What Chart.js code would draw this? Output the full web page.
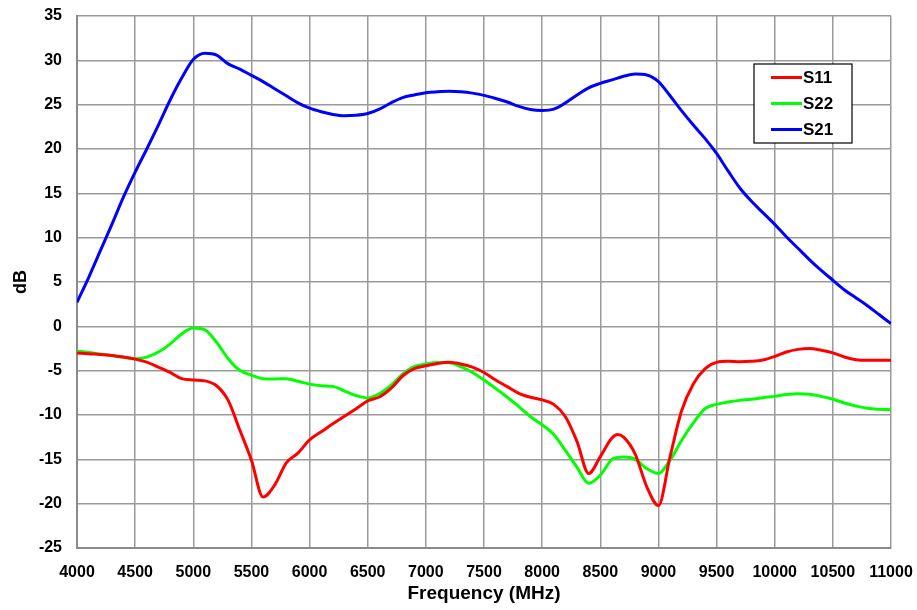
<!DOCTYPE html>
<html>
<head>
<meta charset="utf-8">
<script src="https://cdn.jsdelivr.net/npm/chart.js@4/dist/chart.umd.min.js"></script>
<style>
  html, body { margin: 0; padding: 0; background: #fff; }
  #wrap { width: 917px; height: 610px; position: relative; }
</style>
</head>
<body>
<div id="wrap"><canvas id="sparams"></canvas></div>
<script>
// Frequency points (MHz)
const freqs = [
  4000, 4100, 4200, 4300, 4400, 4500, 4600, 4700, 4800, 4900,
  5000, 5100, 5200, 5300, 5400, 5500, 5600, 5700, 5800, 5900,
  6000, 6100, 6200, 6300, 6400, 6500, 6600, 6700, 6800, 6900,
  7000, 7100, 7200, 7300, 7400, 7500, 7600, 7700, 7800, 7900,
  8000, 8100, 8200, 8300, 8400, 8500, 8600, 8650, 8700, 8800, 8900,
  9000, 9100, 9200, 9300, 9400, 9500, 9600, 9700, 9800, 9900,
  10000, 10100, 10200, 10300, 10400, 10500, 10600, 10700, 10800, 10900,
  11000
];

const s11 = [
  -3.0, -3.1, -3.17, -3.28, -3.47, -3.7, -4.03, -4.6, -5.2, -5.9,
  -6.05, -6.15, -6.7, -8.35, -11.7, -15.1, -19.25, -17.9, -15.4, -14.3,
  -12.8, -11.9, -11.0, -10.15, -9.3, -8.4, -7.97, -7.0, -5.6, -4.77,
  -4.45, -4.2, -4.06, -4.25, -4.6, -5.2, -6.05, -6.8, -7.55, -8.0,
  -8.3, -8.8, -10.2, -13.0, -16.6, -14.7, -12.6, -12.2, -12.5, -14.4, -18.1,
  -20.2, -14.7, -9.5, -6.5, -4.8, -4.06, -3.95, -4.0, -3.95, -3.8,
  -3.4, -2.9, -2.6, -2.5, -2.7, -3.0, -3.46, -3.76, -3.83, -3.83,
  -3.83
];

const s22 = [
  -2.8, -2.95, -3.13, -3.3, -3.5, -3.65, -3.47, -2.9, -2.0, -0.86,
  -0.2, -0.4, -1.8, -3.65, -4.96, -5.5, -5.9, -5.93, -5.9, -6.2,
  -6.52, -6.7, -6.77, -7.3, -7.8, -8.08, -7.6, -6.65, -5.4, -4.55,
  -4.25, -4.08, -4.1, -4.55, -5.2, -6.05, -7.0, -8.0, -9.06, -10.2,
  -11.1, -12.2, -14.0, -15.9, -17.7, -16.8, -15.0, -14.8, -14.75, -15.0, -16.05,
  -16.6, -15.1, -12.85, -10.9, -9.3, -8.8, -8.53, -8.35, -8.23, -8.05,
  -7.9, -7.7, -7.6, -7.67, -7.9, -8.23, -8.65, -9.0, -9.25, -9.35,
  -9.4
];

const s21 = [
  2.7, 5.5, 8.5, 11.5, 14.6, 17.4, 20.0, 22.7, 25.5, 28.0,
  30.1, 30.8, 30.6, 29.6, 29.0, 28.3, 27.6, 26.8, 26.0, 25.2,
  24.6, 24.2, 23.9, 23.75, 23.8, 24.0, 24.5, 25.2, 25.8, 26.1,
  26.35, 26.45, 26.5, 26.45, 26.3, 26.05, 25.7, 25.3, 24.8, 24.45,
  24.35, 24.5, 25.2, 26.1, 26.9, 27.4, 27.8, 28.0, 28.2, 28.45, 28.35,
  27.6, 26.0, 24.3, 22.7, 21.2, 19.5, 17.5, 15.6, 14.1, 12.8,
  11.5, 10.1, 8.8, 7.5, 6.3, 5.2, 4.1, 3.2, 2.3, 1.3,
  0.3
];

const seriesNames = ['S11', 'S22', 'S21'];
const seriesColors = ['#ff0000', '#00ff00', '#0000ff'];
const seriesValues = [s11, s22, s21];

const fontFamily = '"Liberation Sans", Arial, sans-serif';

// legend box drawn inside the plot, top right
const boxLegend = {
  id: 'boxLegend',
  afterDraw(chart) {
    const ctx = chart.ctx;
    const x0 = 754, y0 = 64, w = 98, h = 79;
    ctx.save();
    ctx.fillStyle = '#fff';
    ctx.fillRect(x0, y0, w, h);
    ctx.strokeStyle = '#000';
    ctx.lineWidth = 1.2;
    ctx.strokeRect(x0, y0, w, h);
    ctx.font = 'bold 17px ' + fontFamily;
    ctx.textBaseline = 'middle';
    seriesNames.forEach((name, i) => {
      const y = 77.5 + i * 26;
      ctx.strokeStyle = seriesColors[i];
      ctx.lineWidth = 3;
      ctx.beginPath();
      ctx.moveTo(771, y);
      ctx.lineTo(802, y);
      ctx.stroke();
      ctx.fillStyle = '#000';
      ctx.fillText(name, 803, y + 1);
    });
    ctx.restore();
  }
};

new Chart(document.getElementById('sparams').getContext('2d'), {
  type: 'line',
  data: {
    datasets: seriesNames.map((name, i) => ({
      label: name,
      data: freqs.map((f, k) => ({ x: f, y: seriesValues[i][k] })),
      borderColor: seriesColors[i],
      borderWidth: 3,
      pointRadius: 0,
      fill: false,
      cubicInterpolationMode: 'monotone'
    }))
  },
  options: {
    responsive: true,
    maintainAspectRatio: false,
    animation: false,
    layout: { padding: { left: 0, right: 26, top: 16, bottom: 0 } },
    plugins: {
      legend: { display: false },
      tooltip: { enabled: false }
    },
    scales: {
      x: {
        type: 'linear',
        min: 4000,
        max: 11000,
        afterFit(axis) {
          axis.height = 62;
          axis.paddingLeft = 0;
          axis.paddingRight = 0;
        },
        grid: { color: '#9a9a9a', lineWidth: 1.5, drawTicks: false },
        border: { color: '#8a8a8a', width: 2 },
        ticks: {
          stepSize: 500,
          padding: 15,
          color: '#000',
          maxRotation: 0,
          autoSkip: false,
          font: { family: fontFamily, size: 16, weight: 'bold' },
          callback: v => String(v)
        },
        title: {
          display: true,
          text: 'Frequency (MHz)',
          color: '#000',
          padding: { top: 0, bottom: 5 },
          font: { family: fontFamily, size: 19, weight: 'bold' }
        }
      },
      y: {
        min: -25,
        max: 35,
        afterFit(axis) {
          axis.width = 77;
          axis.paddingTop = 0;
          axis.paddingBottom = 0;
        },
        grid: { color: '#9a9a9a', lineWidth: 1.5, drawTicks: false },
        border: { color: '#8a8a8a', width: 2 },
        ticks: {
          stepSize: 5,
          padding: 15,
          color: '#000',
          font: { family: fontFamily, size: 16, weight: 'bold' }
        },
        title: {
          display: true,
          text: 'dB',
          color: '#000',
          padding: { top: 10, bottom: 0 },
          font: { family: fontFamily, size: 18, weight: 'bold' }
        }
      }
    }
  },
  plugins: [boxLegend]
});
</script>
</body>
</html>
